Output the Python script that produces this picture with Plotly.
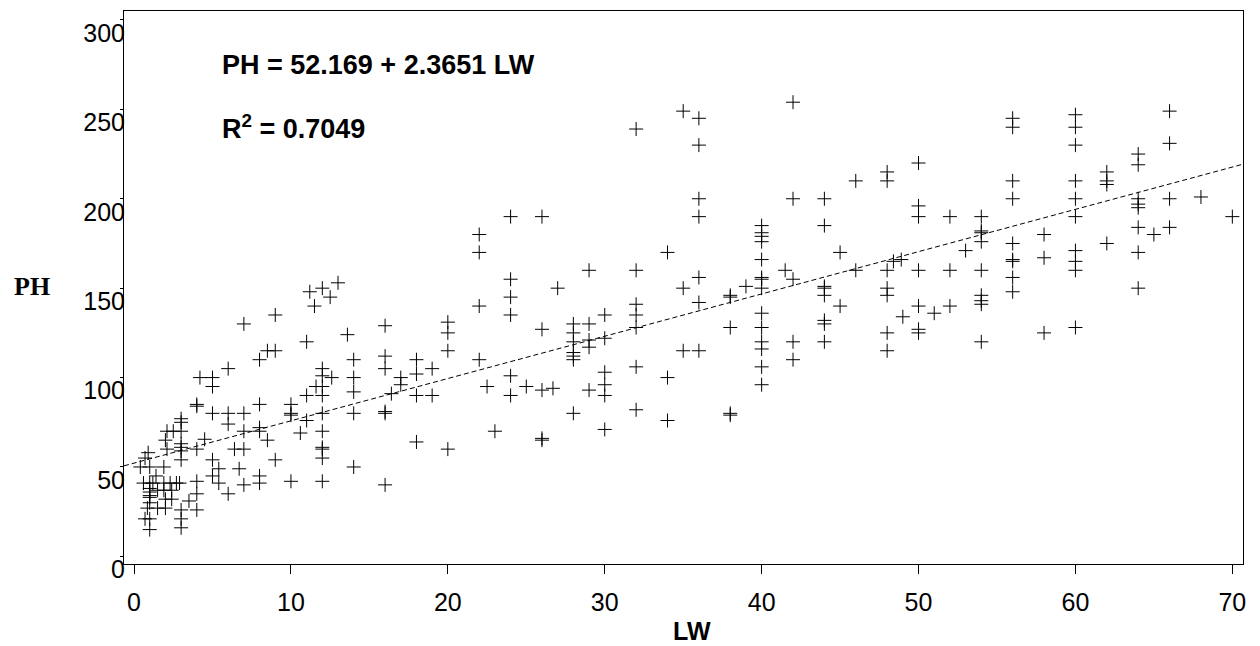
import plotly.graph_objects as go

# ---- data ----
LW = [
    # dense cluster LW < 9
    4, 4, 8, 5, 6, 7, 3, 3, 6, 2.1, 2.5, 3, 7, 8, 8, 8.5, 2, 4.5, 3, 3,
    2.1, 3, 4, 6.4, 7, 3, 0.9, 0.7, 0.4, 1, 1.9, 5, 5.4, 6.7, 5, 1.4,
    0.6, 1, 1.2, 1.9, 2.3, 2.7, 2.9, 4, 5.4, 7, 8, 8, 6, 1, 1, 1, 1,
    1.5, 1.9, 2.4, 4, 2, 2.4, 1, 0.85, 1.5, 2, 3.5, 3, 4, 0.7, 1, 3, 3, 1,
    # LW 4 - 18
    6, 4.2, 5, 5, 8, 8.5, 9, 11, 13.6, 12, 12, 12.6, 11.6, 12, 12, 11,
    14, 14, 14, 16, 16, 17, 17, 18, 18, 18, 16.4, 10, 10, 10, 12, 14, 16, 16,
    11, 10.6, 12, 18, 12, 12, 12, 14, 12, 10, 16, 9,
    13, 12, 11.2, 12.5, 11.5, 9, 7, 16,
    # LW 19 - 45
    42, 35, 36, 32, 36, 36, 42, 44, 36, 24, 26, 44, 22, 22, 40, 40, 40, 40,
    40, 34, 45, 24, 24, 24, 22, 29, 32, 27, 35, 36, 36, 40, 40, 40, 41.5,
    42, 39, 38, 38, 44, 44, 44, 45, 32, 32, 40, 44, 44, 20, 30, 28, 29, 26,
    32, 38, 40,
    20, 20, 28, 28, 28, 28, 28, 29, 29, 30, 30, 30, 30, 32, 34, 35, 36, 40,
    40, 40, 40, 42, 42, 44, 38, 38, 32, 34, 30, 28, 26, 26, 23, 20, 19, 19,
    22, 22.5, 24, 24, 25, 26, 26.7, 29,
    # LW 46 - 70
    66, 66, 60, 60, 60, 56, 56, 50, 46, 48, 48, 64, 64, 56, 56, 60, 60, 60,
    62, 62, 62, 66, 68, 70, 50, 50, 52, 54, 54, 54, 54, 53, 56, 56, 56, 56,
    56, 58, 58, 60, 60, 60, 62, 64, 64, 64, 64, 65, 66, 64, 64, 46, 48, 48.4,
    48.9, 50, 52, 54, 48, 48, 50, 49, 51, 52, 54, 54, 54, 60,
    48, 48, 50, 50, 54, 58,
]
PH = [
    85, 84, 85, 80, 80, 80, 77, 75, 74, 70, 70, 70, 70, 72, 70, 65, 65, 65.5, 63, 61,
    60, 59, 60, 60, 60, 54, 58, 55, 50, 50, 50, 54, 49, 49, 45, 45,
    41, 41, 41, 41, 41, 41, 41, 42, 41, 40, 45, 41, 35, 38, 36, 34, 33,
    37, 37, 37, 35, 32, 32, 30, 27, 27, 27, 31, 26, 26, 21, 21, 21, 16, 15,
    105, 100, 100, 95, 110, 115, 115, 120, 124, 105, 101, 100, 95, 95, 90, 90,
    110, 100, 92, 112, 105, 100, 96, 110, 102, 90, 91, 85, 80, 79, 80, 80, 81, 80,
    76, 69, 70, 64, 61, 60, 55, 50, 42, 42, 40, 54,
    153, 150, 148, 145, 140, 135, 130, 129,
    254, 249, 245, 239, 230, 200, 200, 200, 190, 190, 190, 185, 180, 170, 185, 181, 179, 176,
    166, 170, 170, 155, 145, 135, 140, 160, 160, 150, 150, 156, 142, 156, 155, 150, 160,
    155, 151, 146, 145, 151, 150, 146, 140, 141, 135, 136, 132, 130, 131, 135, 130, 130, 127,
    128, 128, 128,
    125, 115, 125, 120, 114, 112, 110, 121, 117, 122, 103, 96, 90, 106, 100, 115, 115, 120,
    116, 106, 96, 120, 110, 120, 80, 79, 82, 76, 71, 80, 66, 65, 70, 60, 105, 90,
    110, 95, 101, 90, 95, 93, 94, 93,
    249, 231, 247, 240, 230, 245, 240, 220, 210, 215, 210, 225, 219, 210, 200, 210, 200, 190,
    215, 210, 208, 200, 201, 190, 196, 190, 190, 190, 182, 181, 176, 171, 175, 166, 165, 156,
    148, 180, 167, 171, 165, 160, 175, 200, 197, 195, 184, 180, 184, 170, 150, 160, 160, 165,
    166, 160, 160, 160, 150, 146, 140, 134, 136, 140, 146, 143, 141, 128,
    125, 115, 127, 125, 120, 125,
]

INTERCEPT = 52.169
SLOPE = 2.3651
X_RANGE = [-0.64, 70.68]
Y_RANGE = [-4.25, 305.0]
X_TICKS = [0, 10, 20, 30, 40, 50, 60, 70]
Y_TICKS = [0, 50, 100, 150, 200, 250, 300]
EQ_TEXT = "PH = 52.169 + 2.3651 LW"
R2_TEXT = "R<sup>2</sup> = 0.7049"

fig = go.Figure()

fig.add_trace(go.Scatter(
    x=LW, y=PH, mode="markers",
    marker=dict(symbol="cross-thin", size=10, color="black",
                line=dict(color="black", width=1)),
    showlegend=False, hoverinfo="x+y",
))

line_x = [X_RANGE[0], X_RANGE[1]]
line_y = [INTERCEPT + SLOPE * v for v in line_x]
fig.add_trace(go.Scatter(
    x=line_x, y=line_y, mode="lines",
    line=dict(color="black", width=1, dash="5px,3px"),
    showlegend=False, hoverinfo="skip",
))

font_sans = "Liberation Sans, Arial, sans-serif"

fig.update_layout(
    width=1260, height=646,
    margin=dict(l=124, r=17, t=11, b=82),
    paper_bgcolor="white", plot_bgcolor="white",
    font=dict(family=font_sans, size=25, color="black"),
    xaxis=dict(
        range=X_RANGE, tickvals=X_TICKS, ticktext=[str(v) for v in X_TICKS],
        showgrid=False, zeroline=False, showline=True, mirror=True,
        linecolor="black", linewidth=1,
        ticks="outside", ticklen=9, tickcolor="black", tickwidth=1,
        tickfont=dict(family=font_sans, size=25, color="black"),
        ticklabelstandoff=7,
    ),
    yaxis=dict(
        range=Y_RANGE, tickvals=Y_TICKS, ticktext=[str(v) for v in Y_TICKS],
        showgrid=False, zeroline=False, showline=True, mirror=True,
        linecolor="black", linewidth=1,
        ticks="outside", ticklen=3, tickcolor="black", tickwidth=1,
        tickfont=dict(family=font_sans, size=25, color="black"),
        ticklabelstandoff=-10, ticklabelshift=13,
    ),
    annotations=[
        dict(text="<b>" + EQ_TEXT + "</b>", xref="paper", yref="paper",
             x=0.0862, y=0.9024, xanchor="left", yanchor="middle",
             showarrow=False, font=dict(family=font_sans, size=27, color="black")),
        dict(text="<b>" + R2_TEXT + "</b>", xref="paper", yref="paper",
             x=0.0862, y=0.7903, xanchor="left", yanchor="middle",
             showarrow=False, font=dict(family=font_sans, size=27, color="black")),
        dict(text="<b>PH</b>", xref="paper", yref="paper",
             x=-0.0825, y=0.5012, xanchor="center", yanchor="middle",
             showarrow=False,
             font=dict(family="Liberation Serif, Times New Roman, serif", size=26, color="black")),
        dict(text="<b>LW</b>", xref="paper", yref="paper",
             x=0.5077, y=-0.1215, xanchor="center", yanchor="middle",
             showarrow=False, font=dict(family=font_sans, size=25, color="black")),
    ],
)

fig.write_html("out.html")
